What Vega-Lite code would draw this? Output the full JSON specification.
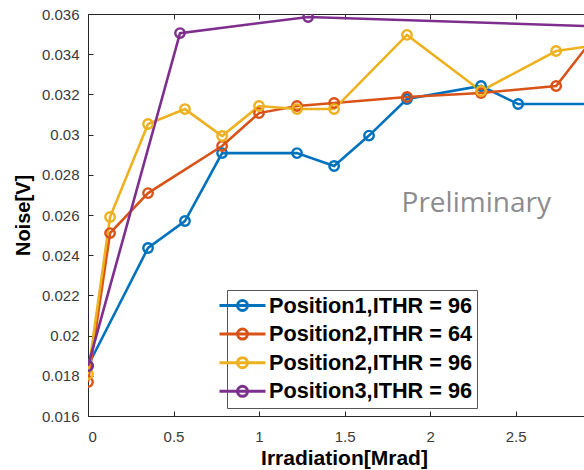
{
  "$schema": "https://vega.github.io/schema/vega-lite/v6.json",
  "width": 496,
  "height": 402,
  "autosize": {"type": "none"},
  "padding": {"left": 88, "top": 14, "right": 0, "bottom": 54},
  "background": "white",
  "config": {
    "view": {"stroke": null},
    "font": "Liberation Sans",
    "axis": {
      "grid": false,
      "domainColor": "#262626",
      "domainWidth": 1,
      "tickColor": "#262626",
      "tickSize": -5,
      "labelFontSize": 15,
      "labelColor": "#3a3a3a",
      "titleFontSize": 20,
      "titleFontWeight": "bold",
      "titleColor": "#000000"
    },
    "legend": {
      "orient": "none",
      "legendX": 139,
      "legendY": 276,
      "fillColor": "white",
      "strokeColor": "#555555",
      "padding": 4,
      "rowPadding": 4.6,
      "symbolType": "M-2.3,0H2.3M0.5,0A0.5,0.5 0 1,1 -0.5,0A0.5,0.5 0 1,1 0.5,0",
      "symbolSize": 400,
      "symbolStrokeWidth": 3,
      "symbolFillColor": "transparent",
      "labelFontSize": 21.7,
      "labelFontWeight": "bold",
      "labelColor": "#000000",
      "labelOffset": 15,
      "labelLimit": 400
    }
  },
  "datasets": {
    "noise": [
      {"series": "Position1,ITHR = 96", "x": 0, "y": 0.0185},
      {"series": "Position1,ITHR = 96", "x": 0.351, "y": 0.02436},
      {"series": "Position1,ITHR = 96", "x": 0.567, "y": 0.0257},
      {"series": "Position1,ITHR = 96", "x": 0.784, "y": 0.02908},
      {"series": "Position1,ITHR = 96", "x": 1.222, "y": 0.02908},
      {"series": "Position1,ITHR = 96", "x": 1.439, "y": 0.02844},
      {"series": "Position1,ITHR = 96", "x": 1.643, "y": 0.02995},
      {"series": "Position1,ITHR = 96", "x": 1.865, "y": 0.03177},
      {"series": "Position1,ITHR = 96", "x": 2.298, "y": 0.03242},
      {"series": "Position1,ITHR = 96", "x": 2.515, "y": 0.03152},
      {"series": "Position1,ITHR = 96", "x": 2.96, "y": 0.03152},
      {"series": "Position2,ITHR = 64", "x": 0, "y": 0.01769},
      {"series": "Position2,ITHR = 64", "x": 0.129, "y": 0.0251},
      {"series": "Position2,ITHR = 64", "x": 0.351, "y": 0.02709},
      {"series": "Position2,ITHR = 64", "x": 0.784, "y": 0.02943},
      {"series": "Position2,ITHR = 64", "x": 1.0, "y": 0.03107},
      {"series": "Position2,ITHR = 64", "x": 1.222, "y": 0.03142},
      {"series": "Position2,ITHR = 64", "x": 1.439, "y": 0.03157},
      {"series": "Position2,ITHR = 64", "x": 1.865, "y": 0.03187},
      {"series": "Position2,ITHR = 64", "x": 2.298, "y": 0.03207},
      {"series": "Position2,ITHR = 64", "x": 2.737, "y": 0.03242},
      {"series": "Position2,ITHR = 64", "x": 2.96, "y": 0.03485},
      {"series": "Position2,ITHR = 96", "x": 0, "y": 0.01809},
      {"series": "Position2,ITHR = 96", "x": 0.129, "y": 0.0259},
      {"series": "Position2,ITHR = 96", "x": 0.351, "y": 0.03053},
      {"series": "Position2,ITHR = 96", "x": 0.567, "y": 0.03127},
      {"series": "Position2,ITHR = 96", "x": 0.784, "y": 0.02993},
      {"series": "Position2,ITHR = 96", "x": 1.0, "y": 0.03142},
      {"series": "Position2,ITHR = 96", "x": 1.222, "y": 0.03127},
      {"series": "Position2,ITHR = 96", "x": 1.439, "y": 0.03127},
      {"series": "Position2,ITHR = 96", "x": 1.865, "y": 0.03496},
      {"series": "Position2,ITHR = 96", "x": 2.298, "y": 0.03217},
      {"series": "Position2,ITHR = 96", "x": 2.737, "y": 0.03416},
      {"series": "Position2,ITHR = 96", "x": 2.96, "y": 0.03443},
      {"series": "Position3,ITHR = 96", "x": 0, "y": 0.01849},
      {"series": "Position3,ITHR = 96", "x": 0.538, "y": 0.03505},
      {"series": "Position3,ITHR = 96", "x": 1.287, "y": 0.03585},
      {"series": "Position3,ITHR = 96", "x": 2.96, "y": 0.03539}
    ],
    "note": [
      {"x": 2.27, "y": 0.02615, "label": "Preliminary"}
    ]
  },
  "resolve": {"axis": {"x": "independent"}},
  "layer": [
    {
      "data": {"name": "noise"},
      "mark": {"type": "line", "strokeWidth": 2.6, "clip": true},
      "encoding": {
        "x": {
          "field": "x", "type": "quantitative",
          "scale": {"domain": [0, 2.9], "nice": false, "zero": false},
          "axis": {
            "orient": "bottom",
            "values": [0, 0.5, 1, 1.5, 2, 2.5],
            "labelExpr": "format(datum.value, '.1~f')",
            "labelPadding": 18,
            "title": "Irradiation[Mrad]",
            "titleFontSize": 21,
            "titleX": 256,
            "titlePadding": 3
          }
        },
        "y": {
          "field": "y", "type": "quantitative",
          "scale": {"domain": [0.016, 0.036], "nice": false, "zero": false},
          "axis": {
            "values": [0.016, 0.018, 0.02, 0.022, 0.024, 0.026, 0.028, 0.03, 0.032, 0.034, 0.036],
            "labelExpr": "format(datum.value, '.3~f')",
            "labelPadding": 14,
            "title": "Noise[V]",
            "titlePadding": 8
          }
        },
        "color": {
          "field": "series", "type": "nominal",
          "scale": {"range": ["#0072BD", "#D95319", "#EDB120", "#7E2F8E"]},
          "legend": {"title": null}
        }
      }
    },
    {
      "data": {"name": "noise"},
      "mark": {"type": "point", "shape": "circle", "filled": false, "size": 90, "strokeWidth": 2.4, "opacity": 1, "clip": true},
      "encoding": {
        "x": {
          "field": "x", "type": "quantitative",
          "scale": {"domain": [0, 2.9], "nice": false, "zero": false},
          "axis": {
            "orient": "top",
            "values": [0, 0.5, 1, 1.5, 2, 2.5],
            "labels": false,
            "title": null
          }
        },
        "y": {"field": "y", "type": "quantitative"},
        "color": {"field": "series", "type": "nominal", "legend": {"title": null}}
      }
    },
    {
      "data": {"name": "note"},
      "mark": {"type": "text", "font": "Open Sans", "fontSize": 28, "color": "#8c8c8c", "align": "center", "baseline": "alphabetic"},
      "encoding": {
        "x": {"field": "x", "type": "quantitative", "axis": null},
        "y": {"field": "y", "type": "quantitative"},
        "text": {"field": "label"}
      }
    }
  ]
}
